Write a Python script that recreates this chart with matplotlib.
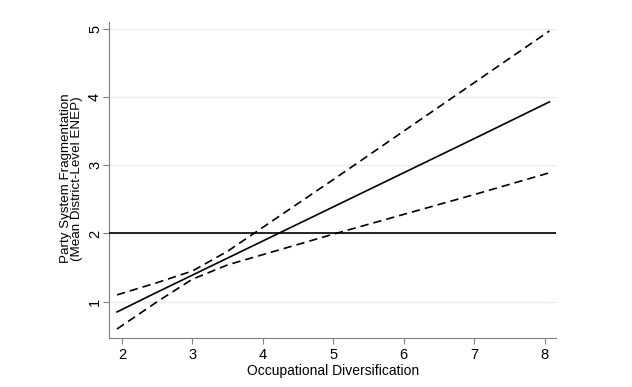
import numpy as np
import matplotlib
matplotlib.use("Agg")
import matplotlib.pyplot as plt

plt.rcParams["font.family"] = ["Liberation Sans", "DejaVu Sans"]

# ── Data ─────────────────────────────────────────────────────────────────────
occ_div  = [1.93, 2.5, 3.0, 3.5, 4.0, 5.0, 6.0, 7.0, 8.07]
effect   = [0.85, 1.14, 1.39, 1.64, 1.89, 2.39, 2.89, 3.39, 3.93]
ci_upper = [1.10, 1.28, 1.45, 1.74, 2.09, 2.79, 3.50, 4.21, 4.97]
ci_lower = [0.60, 1.00, 1.33, 1.54, 1.69, 1.99, 2.28, 2.57, 2.89]
ref_level = 2
x_ticks = [2, 3, 4, 5, 6, 7, 8]
y_ticks = [1, 2, 3, 4, 5]

AXIS_GRAY = "#7f7f7f"

fig = plt.figure(figsize=(6.32, 3.87), dpi=100)
ax = fig.add_axes([0.1725, 0.127, 0.708, 0.816])

ax.plot(occ_div, effect, color="black", lw=1.2)
ax.plot(occ_div, ci_upper, color="black", lw=1.2, ls=(0, (5, 3)))
ax.plot(occ_div, ci_lower, color="black", lw=1.2, ls=(0, (5, 3)))
ax.axhline(ref_level, color="black", lw=1.2, zorder=3)

ax.set_xlim(1.816, 8.17)
ax.set_ylim(0.47, 5.1)
ax.set_xticks(x_ticks)
ax.set_yticks(y_ticks)
ax.set_yticklabels([str(v) for v in y_ticks], rotation=90, va="center")
ax.grid(axis="y", color="#e6e9ee", lw=0.9)
ax.set_axisbelow(True)

ax.spines[["top", "right"]].set_visible(False)
for s in ["left", "bottom"]:
    ax.spines[s].set_color(AXIS_GRAY)
ax.tick_params(colors=AXIS_GRAY, labelcolor="black", labelsize=10.5, length=4)
ax.tick_params(axis="y", pad=1)

ax.set_xlabel("Occupational Diversification", fontsize=10, labelpad=1)
ax.set_ylabel("Party System Fragmentation\n(Mean District-Level ENEP)",
              fontsize=9.6, linespacing=0.95)
ax.yaxis.set_label_coords(-0.058, 0.505)

plt.savefig("out.png", dpi=100)
plt.close()
